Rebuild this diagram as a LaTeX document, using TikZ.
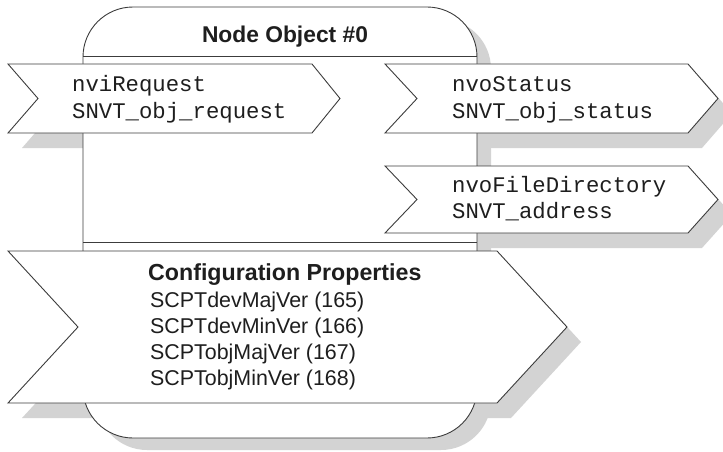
\documentclass[tikz,border=0pt]{standalone}
\usepackage{fontspec}
\setmainfont{Liberation Sans}
\setmonofont{Liberation Mono}
\definecolor{edge}{HTML}{3C3C3C}
\definecolor{shade}{HTML}{D3D3D3}
\definecolor{ink}{HTML}{1E1E1E}
\tikzset{
  outline/.style={draw=edge, line width=0.9pt, fill=white, line join=miter},
  shadowfill/.style={fill=shade, draw=none},
  sepline/.style={draw=edge, line width=0.9pt},
  monotext/.style={anchor=base west, inner sep=0pt, text=ink, font=\fontsize{22.3}{26}\ttfamily},
  titletext/.style={anchor=base, inner sep=0pt, text=ink, font=\fontsize{22.8}{27}\bfseries},
  cptitle/.style={anchor=base west, inner sep=0pt, text=ink, font=\fontsize{23.2}{27}\bfseries},
  cpitem/.style={anchor=base west, inner sep=0pt, text=ink, font=\fontsize{21.4}{26}\selectfont},
}
\newcommand\nviPath{(8,64) -- (312,64) -- (340,98.5) -- (312,133) -- (8,133) -- (38,98.5) -- cycle}
\newcommand\nvoStatusPath{(385,64) -- (688,64) -- (718,98.5) -- (688,133) -- (385,133) -- (417,98.5) -- cycle}
\newcommand\nvoFilePath{(385,166) -- (688,166) -- (718,199.5) -- (688,233) -- (385,233) -- (417,199.5) -- cycle}
\newcommand\cfgPath{(8,251) -- (497,251) -- (567,327) -- (497,403) -- (8,403) -- (78,327) -- cycle}
\newcommand\bodyPath{[rounded corners=50pt] (83,200) -- (83,7) -- (477,7) -- (477,438) -- (83,438) -- cycle}
\begin{document}
\begin{tikzpicture}[x=1pt,y=-1pt]
  \useasboundingbox (0,0) rectangle (723,452);
  % banner shadows
  \begin{scope}[shift={(14,15)}]
    \fill[shadowfill] \nviPath;
    \fill[shadowfill] \nvoStatusPath;
    \fill[shadowfill] \nvoFilePath;
    \fill[shadowfill] \cfgPath;
  \end{scope}
  % body shadow
  \begin{scope}[shift={(14,12)}]
    \fill[shadowfill] \bodyPath;
  \end{scope}
  % body
  \path[outline] \bodyPath;
  \draw[sepline] (83,56) -- (477,56);
  \draw[sepline] (83,242) -- (477,242);
  \node[titletext] (title) at (285,43) {Node Object \#0};
  % banners
  \path[outline] \nviPath;
  \node[monotext] (nviA) at (72,92) {nviRequest};
  \node[monotext] (nviB) at (72,118) {SNVT\_obj\_request};
  \path[outline] \nvoStatusPath;
  \node[monotext] (stA) at (452,92) {nvoStatus};
  \node[monotext] (stB) at (452,118) {SNVT\_obj\_status};
  \path[outline] \nvoFilePath;
  \node[monotext] (fdA) at (452,192) {nvoFileDirectory};
  \node[monotext] (fdB) at (452,218) {SNVT\_address};
  \path[outline] \cfgPath;
  \node[cptitle] (cfg) at (148,280) {Configuration Properties};
  \node[cpitem] (c1) at (150,307) {SCPTdevMajVer (165)};
  \node[cpitem] (c2) at (150,333) {SCPTdevMinVer (166)};
  \node[cpitem] (c3) at (150,359) {SCPTobjMajVer (167)};
  \node[cpitem] (c4) at (150,385) {SCPTobjMinVer (168)};
\end{tikzpicture}
\end{document}
